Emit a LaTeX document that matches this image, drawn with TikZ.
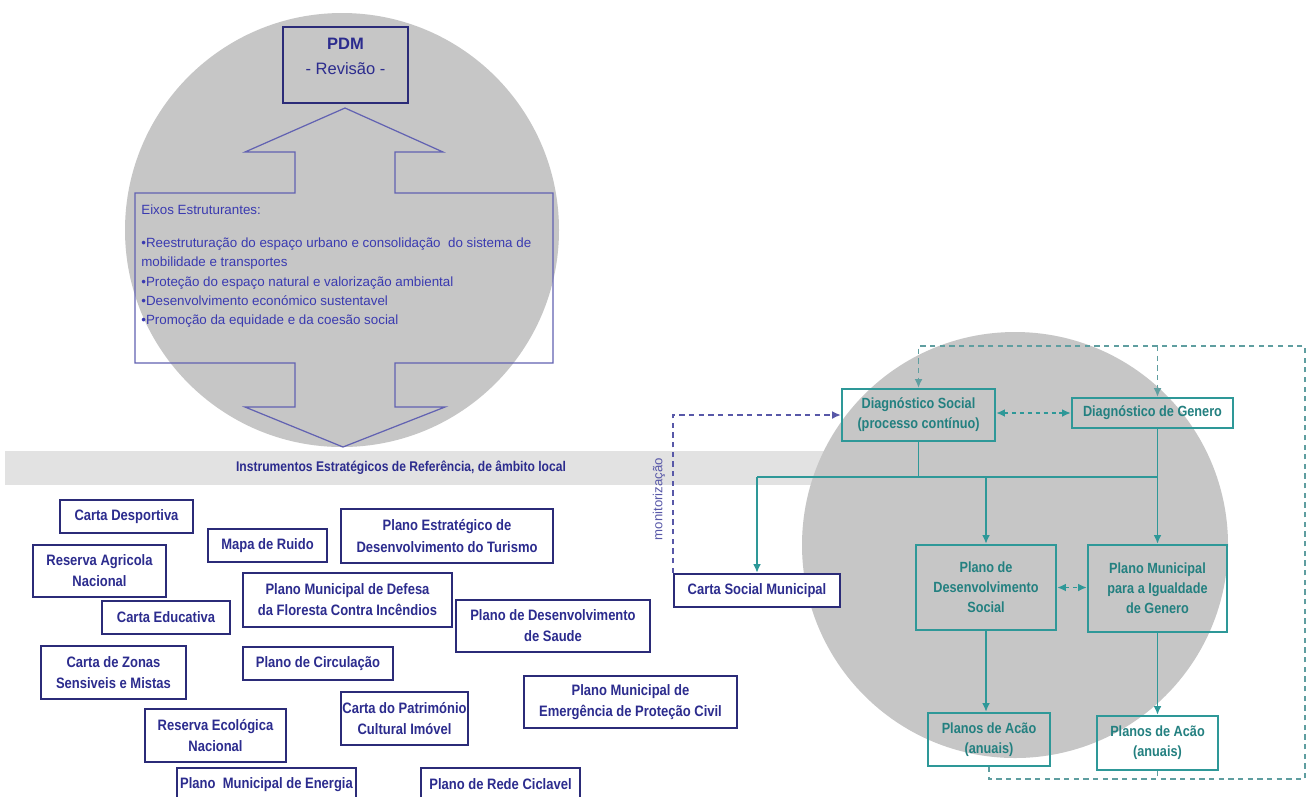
\documentclass[tikz,border=0pt]{standalone}
\usepackage{fontspec}
\setmainfont{Liberation Sans}
\newfontfamily\lab[FakeStretch=0.86]{Liberation Sans}
\usetikzlibrary{arrows.meta}
\definecolor{circ}{HTML}{C6C6C6}
\definecolor{bandc}{HTML}{E2E2E2}
\definecolor{navy}{HTML}{2B2B78}
\definecolor{navytxt}{HTML}{2C2C8E}
\definecolor{arrowc}{HTML}{6262B2}
\definecolor{eixtxt}{HTML}{3A3AB0}
\definecolor{tealc}{HTML}{2E9898}
\definecolor{tealtxt}{HTML}{238080}
\definecolor{loopc}{HTML}{5F9EA0}
\definecolor{purp}{HTML}{5858A8}
\tikzset{
  wh/.style 2 args={minimum width=#1*0.02cm, minimum height=#2*0.02cm},
  lbox/.style={draw=navy, line width=1.3pt, fill=white, inner sep=0pt, align=center,
    text=navytxt, font=\lab\bfseries\fontsize{8.6}{12}\selectfont},
  tbox/.style={draw=tealc, line width=1.3pt, inner sep=0pt, align=center,
    text=tealtxt, font=\lab\bfseries\fontsize{8.4}{11.5}\selectfont},
  tl/.style={draw=tealc, line width=1.1pt},
  tip/.style={-{Latex[length=5pt,width=4.5pt]}},
  dtip/.style={{Latex[length=5pt,width=4.5pt]}-{Latex[length=5pt,width=4.5pt]}},
  tld/.style={draw=tealc, line width=1.1pt, dash pattern=on 2.5pt off 2pt},
  lp/.style={draw=loopc, line width=0.9pt, dash pattern=on 3pt off 2.5pt},
  pp/.style={draw=purp, line width=0.9pt, dash pattern=on 3pt off 2.5pt},
}
\begin{document}
\begin{tikzpicture}[x=0.02cm,y=-0.02cm]
\useasboundingbox (0,0) rectangle (1314,796);
\clip (0,0) rectangle (1314,796);
\fill[white] (0,0) rectangle (1314,796);
% band
\fill[bandc] (5,451) rectangle (830,485);
% circles
\fill[circ] (342,230) circle (217);
\fill[circ] (1015,545) circle (213);
% up-down arrow with box
\draw[arrowc, line width=0.7pt] (135,193) -- (295,193) -- (295,152) -- (245,152) -- (345,108)
  -- (443,152) -- (395,152) -- (395,193) -- (553,193) -- (553,363) -- (395,363) -- (395,407)
  -- (445,407) -- (343,447) -- (245,407) -- (295,407) -- (295,363) -- (135,363) -- cycle;
\node[draw=navy, line width=1.6pt, inner sep=0pt, align=center, text=navytxt,
  font=\fontsize{9.4}{14}\selectfont, wh={125}{76}] (pdm) at (345.5,65)
  {\textbf{PDM}\\- Revisão -\\[-4pt]};
\node[anchor=north west, inner sep=0pt, align=left, text=eixtxt,
  font=\fontsize{7.6}{11}\selectfont] (eixos) at (141,204)
  {Eixos Estruturantes:\\[8pt]
   •Reestruturação do espaço urbano e consolidação\ \ do sistema de\\
   mobilidade e transportes\\
   •Proteção do espaço natural e valorização ambiental\\
   •Desenvolvimento económico sustentavel\\
   •Promoção da equidade e da coesão social};
% band title
\node[text=navytxt, font=\lab\bfseries\fontsize{8}{10}\selectfont] (band) at (401,468)
  {Instrumentos Estratégicos de Referência, de âmbito local};
% left boxes
\node[lbox, wh={133}{33}] (cd) at (126.5,516.5) {Carta Desportiva};
\node[lbox, wh={119}{33}] (mr) at (267.5,545.5) {Mapa de Ruido};
\node[lbox, wh={212}{54}] (pet) at (447,536) {Plano Estratégico de\\Desenvolvimento do Turismo};
\node[lbox, wh={133}{52}] (ran) at (99.5,571) {Reserva Agricola\\Nacional};
\node[lbox, wh={209}{54}] (pmd) at (347.5,600) {Plano Municipal de Defesa\\da Floresta Contra Incêndios};
\node[lbox, wh={128}{33}] (ce) at (166,617.5) {Carta Educativa};
\node[lbox, wh={194}{52}] (pdsa) at (553,626) {Plano de Desenvolvimento\\de Saude};
\node[lbox, wh={145}{53}] (czs) at (113.5,672.5) {Carta de Zonas\\Sensiveis e Mistas};
\node[lbox, wh={150}{33}] (pc) at (318,663.5) {Plano de Circulação};
\node[lbox, wh={127}{53}] (cpc) at (404.5,718.5) {Carta do Património\\Cultural Imóvel};
\node[lbox, wh={213}{52}] (pme) at (630.5,702) {Plano Municipal de\\Emergência de Proteção Civil};
\node[lbox, wh={141}{53}] (ren) at (215.5,735.5) {Reserva Ecológica\\Nacional};
\node[lbox, wh={179}{33}] (pen) at (266.5,784.5) {Plano\ \ Municipal de Energia};
\node[lbox, wh={159}{33}] (prc) at (500.5,784.5) {Plano de Rede Ciclavel};
\node[lbox, wh={166}{33}] (csm) at (757,590.5) {Carta Social Municipal};
% teal boxes
\node[tbox, wh={153}{52}] (ds) at (918.5,415) {Diagnóstico Social\\(processo contínuo)};
\node[tbox, wh={161}{30}] (dg) at (1152.5,413) {Diagnóstico de Genero};
\node[tbox, wh={140}{85}] (pdso) at (986,587.5) {Plano de\\Desenvolvimento\\Social};
\node[tbox, wh={139}{87}] (pmig) at (1157.5,588.5) {Plano Municipal\\para a Igualdade\\de Genero};
\node[tbox, wh={122}{53}] (pa1) at (989,739.5) {Planos de Acão\\(anuais)};
\node[tbox, wh={121}{54}] (pa2) at (1157.5,743) {Planos de Acão\\(anuais)};
% monitorizacao label
\node[rotate=90, text=purp, font=\fontsize{7.5}{9}\selectfont] (mon) at (659,499) {monitorização};
% coordinates
\coordinate (bus) at (0,477);
\coordinate (lb) at (1305,779);
\coordinate (lt) at (1305,346);
% teal connectors
\draw[tl] (ds.south) -- (ds.south |- bus);
\draw[tl] (csm.north |- bus) -- (pmig.north |- bus);
\draw[tl] (pmig.north |- dg.south) -- (pmig.north |- bus);
\draw[tl,tip] (csm.north |- bus) -- (csm.north);
\draw[tl,tip] (pdso.north |- bus) -- (pdso.north);
\draw[tl,tip] (pmig.north |- bus) -- (pmig.north);
\draw[tl,tip] (pdso.south) -- (pdso.south |- pa1.north);
\draw[tl,tip] (pmig.south) -- (pmig.south |- pa2.north);
\draw[tld,dtip] (ds.east |- dg.west) -- (dg.west);
\draw[tld,dtip] (pdso.east) -- (pdso.east -| pmig.west);
% dashed loop
\draw[lp,tip] (pa1.south) |- (lb) -- (lt) -| (ds.north);
\draw[lp,tip] (pmig.north |- lt) -- (pmig.north |- dg.north);
\draw[lp] (pa2.south) -- (pa2.south |- lb);
% monitoring
\draw[pp,tip] (csm.north west) |- (ds.west);
\end{tikzpicture}
\end{document}
